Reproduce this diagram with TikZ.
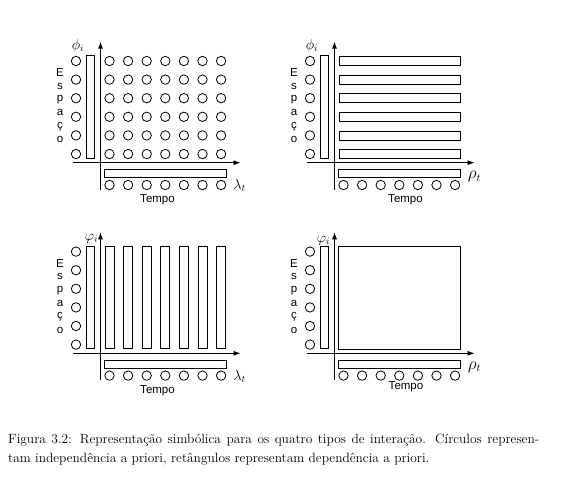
\documentclass[tikz,border=0pt]{standalone}
\usepackage{fontspec}
\setsansfont{Liberation Sans}
\usepackage{tikz}
\usetikzlibrary{positioning, arrows.meta}

\tikzset{
  bola/.style={draw, circle, line width=0.8pt, minimum size=9.4pt, inner sep=0pt},
  barra/.style={draw, line width=0.8pt},
  eixo/.style={line width=0.8pt, -{Latex[length=7pt, width=5pt]}},
  rotulo/.style={font=\sffamily\fontsize{11.5}{13}\selectfont, inner sep=0pt},
  simbolo/.style={font=\fontsize{14}{16}\selectfont, inner sep=0pt},
}

% axes, space column and time row shared by the four panels
\newcommand{\quadroeixos}[1]{%
  \coordinate (#1-x0) at (-28,0);
  \coordinate (#1-x1) at (140,0);
  \coordinate (#1-y0) at (0,27);
  \coordinate (#1-y1) at (0,-121);
  \draw[eixo] (#1-x0) -- (#1-x1);
  \draw[eixo] (#1-y0) -- (#1-y1);
  \foreach \j in {0,...,5}
    \node[bola] (#1-e\j) at (-24.5,-8.7-18.6*\j) {};
  \draw[barra] (-14.5,-107) rectangle (-6,-4.5);
  \foreach \k in {0,...,6}
    \node[bola] (#1-t\k) at (9+18.6*\k,22.3) {};
  \draw[barra] (3.5,6.6) rectangle (126,14.6);
  \foreach \l [count=\n from 0] in {E,s,p,a,ç,o}
    \node[rotulo] (#1-l\n) at (-40.5,-90+13.4*\n) {\l};
}

\begin{document}
\begin{tikzpicture}[x=1pt, y=-1pt]
  \useasboundingbox (0,0) rectangle (564,483);

  % top left: circles everywhere
  \begin{scope}[shift={(100.5,162.7)}]
    \quadroeixos{tl}
    \foreach \j in {0,...,5}
      \foreach \k in {0,...,6}
        \node[bola] (tl-g\j\k) at (9+18.6*\k,-8.7-18.6*\j) {};
    \node[simbolo] (tl-fi) at (-22.5,-117) {$\phi_i$};
    \node[simbolo] (tl-lambda) at (139,23) {$\lambda_t$};
    \node[rotulo] (tl-tempo) at (57,37) {Tempo};
  \end{scope}

  % top right: horizontal bars
  \begin{scope}[shift={(334.5,162.7)}]
    \quadroeixos{tr}
    \foreach \j in {0,...,5}
      \draw[barra] (4.5,-13.2-18.6*\j) rectangle (126,-4.2-18.6*\j);
    \node[simbolo] (tr-fi) at (-22.5,-117) {$\phi_i$};
    \node[simbolo, font=\fontsize{16}{18}\selectfont] (tr-rho) at (140,14) {$\rho_t$};
    \node[rotulo] (tr-tempo) at (71,37) {Tempo};
  \end{scope}

  % bottom left: vertical bars
  \begin{scope}[shift={(100.5,353.3)}]
    \quadroeixos{bl}
    \foreach \k in {0,...,6}
      \draw[barra] (4.5+18.6*\k,-107) rectangle (13.5+18.6*\k,-4.5);
    \node[simbolo] (bl-fi) at (-9,-115) {$\varphi_i$};
    \node[simbolo] (bl-lambda) at (139,23) {$\lambda_t$};
    \node[rotulo] (bl-tempo) at (57,37) {Tempo};
  \end{scope}

  % bottom right: one block
  \begin{scope}[shift={(334.5,353.3)}]
    \quadroeixos{br}
    \draw[barra] (4.2,-106.6) rectangle (125.5,-4.3);
    \node[simbolo] (br-fi) at (-11,-113) {$\varphi_i$};
    \node[simbolo, font=\fontsize{16}{18}\selectfont] (br-rho) at (140,14) {$\rho_t$};
    \node[rotulo] (br-tempo) at (71.5,33) {Tempo};
  \end{scope}

  \node[anchor=north west, text width=531pt, align=justify, inner sep=0pt,
        font=\fontsize{13.4}{19}\selectfont] (legenda) at (8,434) {%
    Figura 3.2: Representação simbólica para os quatro tipos de interação. Círculos represen-\linebreak
    tam independência a priori, retângulos representam dependência a priori.};
\end{tikzpicture}
\end{document}
